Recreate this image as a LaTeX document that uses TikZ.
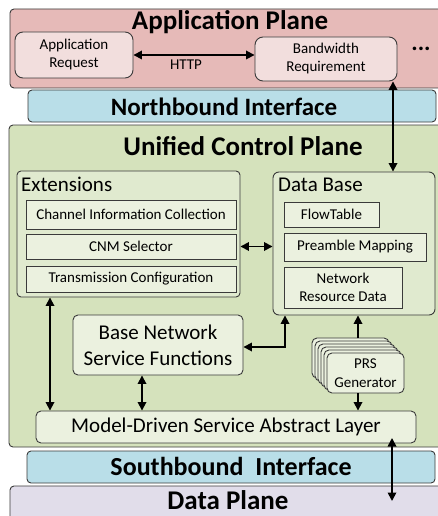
\documentclass[tikz,border=0pt]{standalone}
\usepackage{fontspec}
\setmainfont{Carlito}
\usetikzlibrary{arrows.meta,fit}
\definecolor{appfill}{HTML}{E6BAB8}
\definecolor{appbox}{HTML}{F2DEDD}
\definecolor{ifacefill}{HTML}{B9DEE8}
\definecolor{ctrlfill}{HTML}{D5E2BC}
\definecolor{grpfill}{HTML}{E0EACF}
\definecolor{itemfill}{HTML}{EBF1DF}
\definecolor{datafill}{HTML}{E1DDEA}
\definecolor{edge}{HTML}{3A3A3A}
\tikzset{
  plane/.style={draw=edge, line width=0.9pt, rounded corners=4pt, inner sep=0pt},
  appitem/.style={draw=edge, fill=appbox, line width=0.9pt, rounded corners=8pt, inner sep=0pt, align=center, font=\fontsize{15}{18}\selectfont},
  grp/.style={draw=edge, fill=grpfill, line width=0.9pt, rounded corners=4pt, inner sep=0pt},
  item/.style={draw=edge, fill=itemfill, line width=0.9pt, inner sep=0pt, align=center, font=\fontsize{15}{18}\selectfont},
  bigitem/.style={draw=edge, fill=itemfill, line width=0.9pt, rounded corners=5pt, inner sep=0pt, align=center},
  ttl/.style={font=\fontsize{27}{30}\selectfont\bfseries, anchor=base, inner sep=0pt},
  ittl/.style={font=\fontsize{25}{30}\selectfont\bfseries, anchor=base, inner sep=0pt},
  arr/.style={line width=1.7pt, -{Triangle[length=8.5pt,width=8.5pt]}},
  darr/.style={line width=1.7pt, {Triangle[length=8.5pt,width=8.5pt]}-{Triangle[length=8.5pt,width=8.5pt]}}
}
\begin{document}
\begin{tikzpicture}[x=1pt,y=-1pt]
\useasboundingbox (0,0) rectangle (438,516);
% planes
\node[plane, fill=appfill, fit={(10,9) (442,88)}] (app) {};
\node[ttl] (apptitle) at (230,30) {Application Plane};
\node[plane, fill=ifacefill, fit={(28,90) (436,122)}] (north) {};
\node[ittl] (northtitle) at (224,116) {Northbound Interface};
\node[plane, fill=ctrlfill, fit={(9,125) (442,447)}] (ctrl) {};
\node[ttl] (ctrltitle) at (243,155) {Unified Control Plane};
\node[plane, fill=ifacefill, fit={(27,451) (435,483)}] (south) {};
\node[ittl, font=\fontsize{26}{30}\selectfont\bfseries] (southtitle) at (231,475) {Southbound\ \ Interface};
\node[plane, fill=datafill, fit={(10,486) (442,525)}] (data) {};
\node[ttl] (datatitle) at (228,509) {Data Plane};
% application plane items
\node[appitem, fit={(15,32) (133,78)}] (appreq) {};
\node[align=center, font=\fontsize{15}{18}\selectfont, inner sep=0pt] (appreqtxt) at (appreq.center) {Application\\Request};
\node[appitem, fit={(255,37) (397,81)}] (bw) {};
\node[align=center, font=\fontsize{15}{18}\selectfont, inner sep=0pt] (bwtxt) at (bw.center) {Bandwidth\\Requirement};
\node[font=\fontsize{15}{18}\selectfont, inner sep=0pt] (http) at (186,65) {HTTP};
\node[font=\fontsize{24}{24}\selectfont\bfseries, anchor=base, inner sep=0pt] (dots) at (421,51) {...};
% extensions
\node[grp, fit={(17,171) (240,297)}] (ext) {};
\node[font=\fontsize{21}{24}\selectfont, anchor=west, inner sep=0pt] (extlbl) at (21,184) {Extensions};
\node[item, fit={(26,200) (236,229)}] (cic) {};
\node[font=\fontsize{15}{18}\selectfont, inner sep=0pt] (cictxt) at (cic.center) {Channel Information Collection};
\node[item, fit={(26,234) (236,259)}] (cnm) {};
\node[font=\fontsize{15}{18}\selectfont, inner sep=0pt] (cnmtxt) at (cnm.center) {CNM Selector};
\node[item, fit={(26,266) (236,292)}] (tc) {};
\node[font=\fontsize{15}{18}\selectfont, inner sep=0pt] (tctxt) at (tc.center) {Transmission Configuration};
% data base
\node[grp, rounded corners=6pt, fit={(273,172) (435,315)}] (db) {};
\node[font=\fontsize{21}{24}\selectfont, anchor=west, inner sep=0pt] (dblbl) at (278,185) {Data Base};
\node[item, fit={(284,202) (379,227)}] (ft) {};
\node[font=\fontsize{15}{18}\selectfont, inner sep=0pt] (fttxt) at (ft.center) {FlowTable};
\node[item, fit={(284,233) (426,261)}] (pm) {};
\node[font=\fontsize{15}{18}\selectfont, inner sep=0pt] (pmtxt) at (pm.center) {Preamble Mapping};
\node[item, fit={(284,267) (402,308)}] (nrd) {};
\node[align=center, font=\fontsize{15}{18}\selectfont, inner sep=0pt] (nrdtxt) at (nrd.center) {Network\\Resource Data};
% base network service functions
\node[bigitem, fit={(73,315) (243,375)}] (bnsf) {};
\node[align=center, font=\fontsize{21}{26}\selectfont, inner sep=0pt] (bnsftxt) at (bnsf.center) {Base Network\\Service Functions};
% PRS generator stack
\foreach \o in {15,12,9,6,3}{
  \draw[draw=edge, fill=itemfill, line width=0.9pt, rounded corners=5pt] (327-\o,353-\o) rectangle (404-\o,393-\o);
}
\node[bigitem, fit={(327,353) (404,393)}] (prs) {};
\node[align=center, font=\fontsize{15}{19}\selectfont, inner sep=0pt] (prstxt) at (prs.center) {PRS\\Generator};
\coordinate (prstop) at (358,338);
% model-driven layer
\node[bigitem, fit={(36,411) (416,443)}] (mdsal) {};
\node[font=\fontsize{21}{24}\selectfont, inner sep=0pt] (mdsaltxt) at (mdsal.center) {Model-Driven Service Abstract Layer};
% connectors
\draw[darr] (appreq.east) -- (appreq.east -| bw.west);
\draw[darr] (bw.south -| 393,0) -- (db.north -| 393,0);
\draw[darr] (cnm.east -| ext.east) -- (cnm.east -| db.west);
\draw[darr] (ext.south -| 50,0) -- (mdsal.north -| 50,0);
\draw[darr] (bnsf.south -| 142,0) -- (mdsal.north -| 142,0);
\draw[darr] (bnsf.east |- 0,347) -| (db.south -| 285,0);
\draw[arr] (prstop) -- (db.south -| prstop);
\draw[arr] (prs.south -| prstop) -- (mdsal.north -| prstop);
\coordinate (mdtip) at (392,438);
\coordinate (dptip) at (392,501);
\draw[darr] (mdtip) -- (dptip);
\end{tikzpicture}
\end{document}
